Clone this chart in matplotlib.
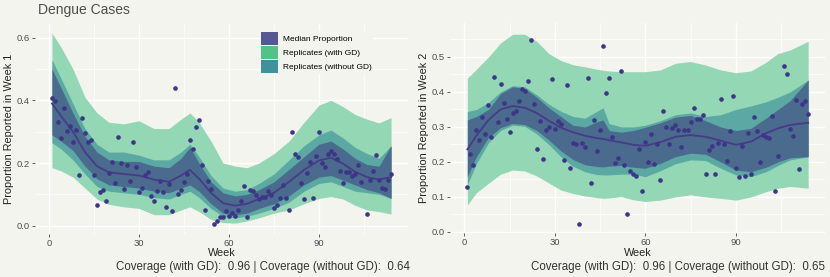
import numpy as np
import matplotlib
matplotlib.use('Agg')
import matplotlib.pyplot as plt
from matplotlib.patches import Patch

plt.rcParams['font.family'] = ['Liberation Sans', 'DejaVu Sans']

# observed proportions, week 105 not visible in either panel
weeks = list(range(1, 105)) + list(range(106, 115))

week1 = [0.406, 0.399, 0.332, 0.279, 0.377, 0.303, 0.318, 0.266, 0.305, 0.162,
         0.344, 0.295, 0.268, 0.273, 0.163, 0.066, 0.106, 0.115, 0.079, 0.168,
         0.202, 0.137, 0.284, 0.201, 0.118, 0.195, 0.144, 0.268, 0.187, 0.106,
         0.121, 0.162, 0.172, 0.096, 0.080, 0.112, 0.144, 0.106, 0.061, 0.133,
         0.047, 0.441, 0.102, 0.114, 0.140, 0.164, 0.273, 0.244, 0.316, 0.338,
         0.193, 0.050, 0.143, 0.118, 0.006, 0.016, 0.027, 0.027, 0.047, 0.031,
         0.042, 0.031, 0.049, 0.078, 0.128, 0.028, 0.115, 0.110, 0.099, 0.085,
         0.091, 0.091, 0.112, 0.099, 0.057, 0.066, 0.089, 0.129, 0.089, 0.051,
         0.299, 0.228, 0.218, 0.136, 0.085, 0.168, 0.204, 0.089, 0.222, 0.299,
         0.200, 0.187, 0.228, 0.238, 0.228, 0.214, 0.174, 0.137, 0.172, 0.172,
         0.157, 0.166, 0.193, 0.139,
         0.038, 0.146, 0.174, 0.227, 0.146, 0.121, 0.118, 0.145, 0.165]

week2 = [0.128, 0.223, 0.190, 0.291, 0.263, 0.328, 0.280, 0.363, 0.270, 0.442,
         0.315, 0.423, 0.369, 0.323, 0.287, 0.340, 0.347, 0.373, 0.408, 0.402,
         0.431, 0.549, 0.365, 0.236, 0.318, 0.209, 0.290, 0.299, 0.436, 0.295,
         0.318, 0.309, 0.207, 0.419, 0.184, 0.255, 0.250, 0.024, 0.255, 0.244,
         0.439, 0.140, 0.319, 0.230, 0.290, 0.530, 0.397, 0.440, 0.270, 0.198,
         0.211, 0.460, 0.190, 0.050, 0.175, 0.166, 0.161, 0.237, 0.117, 0.257,
         0.201, 0.281, 0.194, 0.250, 0.148, 0.347, 0.301, 0.250, 0.298, 0.305,
         0.290, 0.243, 0.290, 0.290, 0.315, 0.355, 0.324, 0.322, 0.335, 0.167,
         0.235, 0.246, 0.167, 0.255, 0.380, 0.250, 0.203, 0.289, 0.388, 0.184,
         0.158, 0.246, 0.160, 0.282, 0.167, 0.328, 0.289, 0.201, 0.278, 0.272,
         0.269, 0.330, 0.116, 0.218,
         0.474, 0.450, 0.294, 0.274, 0.377, 0.179, 0.365, 0.374, 0.336]

# week 1 bands
k1 = [1, 4, 8, 12, 16, 20, 25, 30, 35, 40, 44, 47, 50, 54, 58, 62, 66, 70, 75,
      80, 85, 90, 94, 98, 102, 106, 110, 114]
med1 = [0.39, 0.35, 0.30, 0.235, 0.19, 0.17, 0.165, 0.16, 0.147, 0.14, 0.16, 0.178,
        0.15, 0.105, 0.072, 0.064, 0.07, 0.085, 0.105, 0.14, 0.178, 0.208, 0.217,
        0.198, 0.172, 0.155, 0.147, 0.155]
in1_lo = [0.29, 0.27, 0.24, 0.19, 0.15, 0.13, 0.125, 0.12, 0.11, 0.105, 0.12, 0.13,
          0.11, 0.07, 0.04, 0.035, 0.04, 0.055, 0.07, 0.095, 0.13, 0.155, 0.16,
          0.145, 0.13, 0.115, 0.105, 0.087]
in1_hi = [0.50, 0.44, 0.36, 0.285, 0.235, 0.21, 0.205, 0.205, 0.19, 0.185, 0.215,
          0.25, 0.20, 0.14, 0.105, 0.095, 0.10, 0.115, 0.14, 0.18, 0.22, 0.26, 0.27,
          0.245, 0.215, 0.195, 0.19, 0.255]
mid1_lo = [0.265, 0.245, 0.21, 0.165, 0.125, 0.11, 0.105, 0.10, 0.09, 0.085, 0.10,
           0.11, 0.09, 0.055, 0.03, 0.025, 0.03, 0.04, 0.055, 0.075, 0.11, 0.135,
           0.14, 0.125, 0.11, 0.105, 0.10, 0.087]
mid1_hi = [0.53, 0.47, 0.39, 0.31, 0.26, 0.235, 0.235, 0.225, 0.21, 0.21, 0.235,
           0.26, 0.22, 0.16, 0.12, 0.11, 0.115, 0.135, 0.165, 0.21, 0.255, 0.29,
           0.305, 0.28, 0.25, 0.23, 0.215, 0.255]
out1_lo = [0.185, 0.175, 0.155, 0.12, 0.085, 0.068, 0.06, 0.055, 0.035, 0.035, 0.05,
           0.06, 0.045, 0.02, 0.01, 0.008, 0.015, 0.025, 0.04, 0.05, 0.07, 0.087,
           0.093, 0.085, 0.065, 0.05, 0.045, 0.037]
out1_hi = [0.615, 0.57, 0.50, 0.41, 0.36, 0.33, 0.325, 0.335, 0.31, 0.31, 0.34,
           0.36, 0.33, 0.27, 0.20, 0.19, 0.185, 0.20, 0.23, 0.27, 0.33, 0.385, 0.40,
           0.38, 0.355, 0.34, 0.328, 0.345]

# week 2 bands
k2 = [1, 4, 8, 12, 16, 20, 24, 28, 32, 36, 40, 44, 46, 48, 52, 56, 60, 65, 70, 75,
      80, 85, 90, 95, 100, 104, 108, 114]
med2 = [0.236, 0.275, 0.32, 0.35, 0.36, 0.355, 0.34, 0.318, 0.298, 0.285, 0.275,
        0.268, 0.266, 0.262, 0.256, 0.249, 0.246, 0.257, 0.272, 0.277, 0.272, 0.261,
        0.249, 0.258, 0.282, 0.296, 0.306, 0.312]
in2_lo = [0.158, 0.215, 0.27, 0.298, 0.31, 0.307, 0.29, 0.263, 0.232, 0.207, 0.192,
          0.187, 0.186, 0.188, 0.19, 0.185, 0.182, 0.196, 0.215, 0.225, 0.222, 0.20,
          0.177, 0.172, 0.185, 0.20, 0.212, 0.215]
in2_hi = [0.32, 0.33, 0.35, 0.395, 0.415, 0.41, 0.385, 0.355, 0.33, 0.305, 0.30,
          0.315, 0.32, 0.29, 0.285, 0.29, 0.299, 0.312, 0.328, 0.333, 0.318, 0.30,
          0.29, 0.296, 0.325, 0.35, 0.375, 0.434]
mid2_lo = [0.135, 0.195, 0.255, 0.29, 0.305, 0.302, 0.28, 0.25, 0.215, 0.188, 0.172,
           0.164, 0.163, 0.163, 0.165, 0.165, 0.158, 0.175, 0.195, 0.206, 0.204,
           0.182, 0.163, 0.158, 0.172, 0.19, 0.206, 0.215]
mid2_hi = [0.344, 0.35, 0.37, 0.40, 0.418, 0.415, 0.392, 0.365, 0.345, 0.33, 0.325,
           0.345, 0.355, 0.31, 0.30, 0.30, 0.305, 0.318, 0.335, 0.34, 0.33, 0.335,
           0.35, 0.36, 0.372, 0.385, 0.40, 0.434]
out2_lo = [0.077, 0.112, 0.139, 0.165, 0.177, 0.174, 0.16, 0.14, 0.12, 0.11, 0.103,
           0.098, 0.096, 0.097, 0.101, 0.092, 0.087, 0.091, 0.10, 0.106, 0.10, 0.096,
           0.091, 0.10, 0.115, 0.125, 0.13, 0.125]
out2_hi = [0.439, 0.465, 0.50, 0.54, 0.565, 0.565, 0.545, 0.51, 0.49, 0.478, 0.472,
           0.465, 0.462, 0.46, 0.458, 0.458, 0.458, 0.463, 0.482, 0.487, 0.477, 0.463,
           0.455, 0.46, 0.485, 0.51, 0.52, 0.545]

coverage = [(0.96, 0.64), (0.96, 0.65)]

bg = '#f4f4ef'
W, H = 830, 277

fig = plt.figure(figsize=(8.3, 2.77), dpi=100, facecolor=bg)


def px_axes(x0, x1, y0, y1):
    return fig.add_axes([x0 / W, 1 - y1 / H, (x1 - x0) / W, (y1 - y0) / H])


ax1 = px_axes(35, 408, 23.6, 233.5)
ax2 = px_axes(450.3, 825.2, 23.4, 233)

panels = [
    (ax1, week1, k1, med1, in1_lo, in1_hi, mid1_lo, mid1_hi, out1_lo, out1_hi,
     (-0.025, 0.645), [0, 0.2, 0.4, 0.6], [0.1, 0.3, 0.5]),
    (ax2, week2, k2, med2, in2_lo, in2_hi, mid2_lo, mid2_hi, out2_lo, out2_hi,
     (-0.003, 0.596), [0, 0.1, 0.2, 0.3, 0.4, 0.5], [0.05, 0.15, 0.25, 0.35, 0.45, 0.55]),
]

for (ax, pts, k, med, ilo, ihi, mlo, mhi, olo, ohi, ylim, yt, ymin) in panels:
    ax.set_facecolor(bg)
    ax.fill_between(k, olo, ohi, color='#94d7b5', lw=0, zorder=2)
    ax.fill_between(k, mlo, mhi, color='#5ca9a3', lw=0, zorder=3)
    ax.fill_between(k, ilo, ihi, color='#4a6b8d', lw=0, zorder=4)
    ax.plot(k, med, color='#463b86', lw=1.3, zorder=5)
    ax.scatter(weeks, pts, s=11, color='#3d3587', lw=0, zorder=6)

    ax.set_xlim(-4.65, 119.65)
    ax.set_ylim(*ylim)
    ax.set_xticks([0, 30, 60, 90])
    ax.set_xticks([15, 45, 75, 105], minor=True)
    ax.set_yticks(yt)
    ax.set_yticks(ymin, minor=True)
    ax.set_yticklabels(['%.1f' % v for v in yt])
    ax.grid(which='major', color='white', lw=0.9, zorder=0)
    ax.grid(which='minor', color='white', lw=0.5, zorder=0)
    ax.set_axisbelow(True)
    for s in ax.spines.values():
        s.set_visible(False)
    ax.tick_params(which='major', length=2.2, width=0.6, color='#444444',
                   labelsize=6.8, labelcolor='#4d4d4d', pad=1.5)
    ax.tick_params(which='minor', length=0)

handles = [Patch(facecolor='#575792', label='Median Proportion'),
           Patch(facecolor='#53c286', label='Replicates (with GD)'),
           Patch(facecolor='#41909b', label='Replicates (without GD)')]
ax1.legend(handles=handles, loc='upper left', bbox_to_anchor=((260 - 35) / 373, 1 - (31 - 23.6) / 210),
           frameon=True, facecolor=bg, edgecolor='none', framealpha=1, fontsize=6,
           handlelength=2.0, handleheight=2.0, labelspacing=0.1, borderpad=0.15,
           handletextpad=0.6, borderaxespad=0)

fig.text(38 / W, 1 - 10 / H, 'Dengue Cases', fontsize=10, color='#4d4d4d', va='center', ha='left')

for ax, x_lab, n in [(ax1, 9, 1), (ax2, 424, 2)]:
    pos = ax.get_position()
    fig.text(x_lab / W, pos.y0 + pos.height / 2, 'Proportion Reported in Week %d' % n,
             rotation=90, fontsize=7.8, color='#222222', ha='center', va='center')
    fig.text(pos.x0 + pos.width / 2, 1 - 253.5 / H, 'Week', fontsize=7.8,
             color='#222222', ha='center', va='center')

fig.text(410 / W, 1 - 267 / H,
         'Coverage (with GD):  %.2f | Coverage (without GD):  %.2f' % coverage[0],
         fontsize=8.3, color='#333333', ha='right', va='center')
fig.text(825 / W, 1 - 267 / H,
         'Coverage (with GD):  %.2f | Coverage (without GD):  %.2f' % coverage[1],
         fontsize=8.3, color='#333333', ha='right', va='center')

fig.savefig('out.png', dpi=100, facecolor=bg)
